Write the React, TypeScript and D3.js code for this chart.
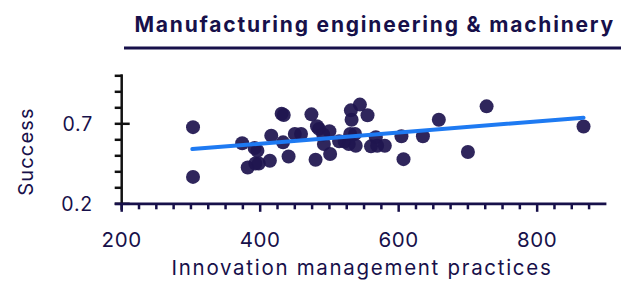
import React from "react";
import * as d3 from "d3";

const title = "Manufacturing engineering & machinery";
const xLabel = "Innovation management practices";
const yLabel = "Success";

const practices = [303, 303, 374, 382, 392, 396, 393, 398, 414, 416, 431, 434, 433, 441, 450, 459, 474, 480, 482, 485, 491, 500, 492, 501, 514, 522, 528, 530, 537, 531, 532, 544, 555, 538, 560, 567, 569, 580, 604, 607, 635, 658, 700, 727, 867];
const success = [0.679, 0.368, 0.578, 0.427, 0.549, 0.532, 0.452, 0.452, 0.469, 0.626, 0.763, 0.755, 0.584, 0.496, 0.637, 0.637, 0.759, 0.475, 0.685, 0.668, 0.633, 0.654, 0.574, 0.511, 0.591, 0.589, 0.574, 0.637, 0.637, 0.784, 0.725, 0.82, 0.753, 0.563, 0.559, 0.616, 0.563, 0.563, 0.622, 0.479, 0.622, 0.725, 0.524, 0.809, 0.683];

const trendX = [302, 867];
const trendY = [0.542, 0.738];

const xTicks = d3.range(200, 876, 25);
const xLabelTicks = [200, 400, 600, 800];
const yTicks = [0.2, 0.3, 0.4, 0.5, 0.6, 0.7, 0.8, 0.9, 1.0];
const yLabelTicks = [0.2, 0.7];

const navy = "#17104a";
const dotColor = "#1f1650";
const blue = "#1e7af2";
const font = "Inter, 'Noto Sans', sans-serif";

export default function App() {
  const x = d3.scaleLinear().domain([200, 900]).range([121.7, 606.4]);
  const y = d3.scaleLinear().domain([0.2, 1.0]).range([203.8, 75.8]);
  const line = d3.line<number>().x((d, i) => x(trendX[i])).y((d, i) => y(trendY[i]));
  const x0 = x(200);
  const y0 = y(0.2);
  return (
    <svg width={621} height={281} style={{ position: "absolute", left: 0, top: 0, background: "#fff" }}>
      <text x={615} y={32} textAnchor="end" fontFamily={font} fontWeight={700} fontSize={21} letterSpacing={1.8} fill={navy}>
        {title}
      </text>
      <line x1={124} x2={621} y1={48} y2={48} stroke={navy} strokeWidth={3} />

      {/* y axis */}
      <line x1={x0} x2={x0} y1={y(1.0) - 1.5} y2={y0 + 6} stroke="#111" strokeWidth={2.5} />
      {yTicks.map((t) => {
        const major = yLabelTicks.includes(t);
        return (
          <line key={t} x1={x0 - 7} x2={major ? x0 + 8 : x0} y1={y(t)} y2={y(t)} stroke="#111" strokeWidth={2.5} />
        );
      })}
      {yLabelTicks.map((t) => (
        <text key={t} x={93} y={y(t)} dy="0.35em" textAnchor="end" fontFamily={font} fontSize={19.5} letterSpacing={0.8} fill={navy}>
          {d3.format(".1f")(t)}
        </text>
      ))}
      <text
        transform={`translate(33,151.5) rotate(-90)`}
        textAnchor="middle"
        fontFamily={font}
        fontSize={20}
        letterSpacing={1.2}
        fill={navy}
      >
        {yLabel}
      </text>

      {/* x axis */}
      <line x1={x0 - 7} x2={x(900)} y1={y0} y2={y0} stroke={navy} strokeWidth={2.8} />
      {xTicks.map((t) => {
        const major = xLabelTicks.includes(t);
        return (
          <line key={t} x1={x(t)} x2={x(t)} y1={y0} y2={y0 + (major ? 8 : 5.5)} stroke={navy} strokeWidth={2.5} />
        );
      })}
      {xLabelTicks.map((t) => (
        <text key={t} x={x(t)} y={247} textAnchor="middle" fontFamily={font} fontSize={20.5} letterSpacing={0.6} fill={navy}>
          {t}
        </text>
      ))}
      <text x={362} y={275} textAnchor="middle" fontFamily={font} fontSize={20.5} letterSpacing={1.7} fill={navy}>
        {xLabel}
      </text>

      {/* points */}
      {practices.map((p, i) => (
        <circle key={i} cx={x(p)} cy={y(success[i])} r={7} fill={dotColor} fillOpacity={0.93} />
      ))}

      {/* trend */}
      <path d={line(trendX) || ""} fill="none" stroke={blue} strokeWidth={4} strokeLinecap="round" />
    </svg>
  );
}
